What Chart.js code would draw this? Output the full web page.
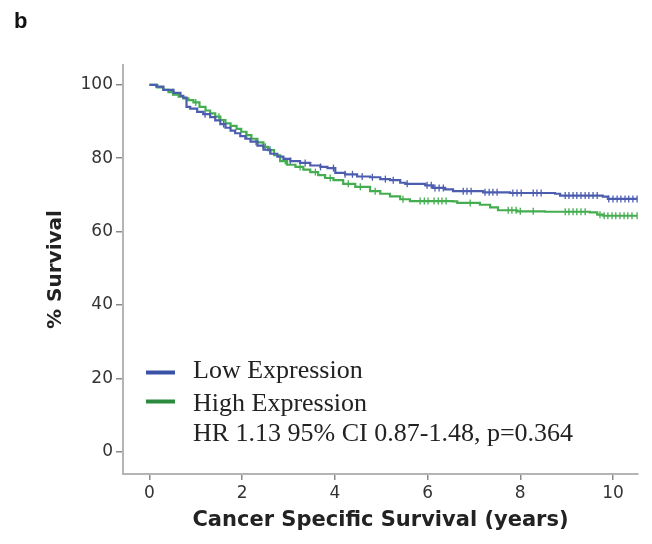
<!DOCTYPE html>
<html>
<head>
<meta charset="utf-8">
<script src="https://cdn.jsdelivr.net/npm/chart.js@4/dist/chart.umd.min.js"></script>
<style>
  body { margin: 0; background: #fff; }
  #wrap { position: relative; width: 652px; height: 544px; }
</style>
</head>
<body>
<div id="wrap"><canvas id="kmChart"></canvas></div>
<script>
// Kaplan-Meier curves (years, % survival)
const lowTimes = [0, 0.15, 0.30, 0.52, 0.67, 0.73, 0.80, 0.88, 1.03, 1.16, 1.31, 1.42, 1.53, 1.64, 1.75, 1.85, 1.96, 2.07, 2.18, 2.33, 2.46, 2.61, 2.76, 2.89, 3.04, 3.25, 3.47, 3.69, 3.84, 4.01, 4.22, 4.48, 4.76, 4.98, 5.19, 5.41, 5.52, 5.95, 6.12, 6.38, 6.55, 7.20, 7.78, 8.75, 8.86, 9.78, 9.89, 10.52];
const lowSurv = [100, 99.5, 98.6, 97.8, 97.0, 96.5, 94.0, 93.5, 92.6, 92.0, 91.2, 90.3, 89.3, 88.3, 87.5, 86.8, 86.0, 85.3, 84.5, 83.4, 82.3, 81.2, 80.4, 79.8, 79.2, 78.7, 78.0, 77.6, 77.3, 76.0, 75.6, 75.0, 74.8, 74.3, 74.0, 73.3, 73.0, 72.6, 71.9, 71.5, 71.0, 70.7, 70.5, 70.3, 69.8, 69.5, 68.9, 68.9];

const highTimes = [0, 0.17, 0.30, 0.41, 0.52, 0.63, 0.73, 0.84, 0.95, 1.08, 1.21, 1.31, 1.42, 1.53, 1.64, 1.75, 1.88, 1.98, 2.09, 2.20, 2.33, 2.46, 2.56, 2.69, 2.82, 2.97, 3.15, 3.32, 3.47, 3.64, 3.79, 3.97, 4.18, 4.44, 4.76, 4.98, 5.19, 5.41, 5.62, 6.55, 6.64, 7.13, 7.35, 7.52, 7.93, 8.53, 9.50, 9.66, 9.78, 10.52];
const highSurv = [100, 99.3, 98.6, 98.0, 97.3, 96.8, 96.3, 95.8, 95.2, 94.0, 93.0, 92.2, 91.3, 90.4, 89.5, 88.8, 88.0, 87.2, 86.3, 85.3, 84.3, 83.1, 82.2, 80.8, 79.2, 78.2, 77.6, 76.9, 76.2, 75.4, 74.6, 74.0, 73.0, 72.2, 71.0, 70.3, 69.6, 68.8, 68.3, 68.2, 67.8, 67.3, 66.6, 65.8, 65.5, 65.4, 65.2, 64.6, 64.3, 64.3];

// censored observations (years)
const lowCensor = [1.2, 1.6, 2.3, 2.6, 3.04, 3.36, 3.69, 3.97, 4.22, 4.38, 4.59, 4.81, 5.09, 5.26, 5.56, 5.99, 6.08, 6.16, 6.25, 6.34, 6.77, 6.85, 6.94, 7.24, 7.33, 7.41, 7.50, 7.84, 7.93, 8.02, 8.28, 8.36, 8.45, 8.97, 9.05, 9.14, 9.22, 9.31, 9.40, 9.48, 9.57, 9.66, 9.91, 10.0, 10.09, 10.17, 10.26, 10.34, 10.43, 10.52];
const highCensor = [0.5, 1.0, 1.5, 2.1, 2.5, 2.93, 3.25, 3.58, 3.90, 4.29, 4.55, 4.87, 5.47, 5.84, 5.93, 6.01, 6.14, 6.23, 6.31, 6.40, 6.92, 7.74, 7.82, 7.91, 8.0, 8.28, 8.97, 9.05, 9.14, 9.22, 9.31, 9.40, 9.72, 9.81, 9.89, 9.98, 10.06, 10.15, 10.24, 10.32, 10.41, 10.52];

const seriesNames = ['Low Expression', 'High Expression'];
const statsText = 'HR 1.13 95% CI 0.87-1.48, p=0.364';
const xTicks = [0, 2, 4, 6, 8, 10];
const yTicks = [0, 20, 40, 60, 80, 100];

const lowColor = '#4c5db0';
const highColor = '#43ad50';
const lowLegendColor = '#3a52a5';
const highLegendColor = '#2b8a3d';

function toPoints(times, surv) {
  return times.map((t, i) => ({ x: t, y: surv[i] }));
}

// survival value at time t from the step function
function survAt(times, surv, t) {
  let v = surv[0];
  for (let i = 0; i < times.length; i++) {
    if (times[i] <= t) v = surv[i];
  }
  return v;
}

function censorPoints(censor, times, surv) {
  return censor.map(t => ({ x: t, y: survAt(times, surv, t) }));
}

const legendPlugin = {
  id: 'kmLegend',
  afterDraw(chart) {
    const ctx = chart.ctx;
    ctx.save();
    // panel letter
    ctx.fillStyle = '#111';
    ctx.font = 'bold 22px "Liberation Sans", Arial, sans-serif';
    ctx.textBaseline = 'alphabetic';
    ctx.textAlign = 'left';
    ctx.fillText('b', 14, 28);

    const rows = [
      { color: lowLegendColor, text: seriesNames[0], lineY: 372.5, baseY: 378 },
      { color: highLegendColor, text: seriesNames[1], lineY: 401.5, baseY: 410.5 }
    ];
    ctx.font = '26px "Liberation Serif", "Times New Roman", serif';
    rows.forEach(r => {
      ctx.strokeStyle = r.color;
      ctx.lineWidth = 4;
      ctx.beginPath();
      ctx.moveTo(146, r.lineY);
      ctx.lineTo(175, r.lineY);
      ctx.stroke();
      ctx.fillStyle = '#222';
      ctx.fillText(r.text, 193, r.baseY);
    });
    ctx.fillText(statsText, 193, 441);
    ctx.restore();
  }
};

const axisGrid = {
  display: true,
  drawOnChartArea: false,
  drawTicks: true,
  color: '#8a8a8a',
  lineWidth: 1.5
};

new Chart(document.getElementById('kmChart').getContext('2d'), {
  type: 'line',
  data: {
    datasets: [
      {
        label: seriesNames[0],
        data: toPoints(lowTimes, lowSurv),
        borderColor: lowColor,
        borderWidth: 2.2,
        pointRadius: 0,
        stepped: 'before',
        fill: false
      },
      {
        label: seriesNames[1],
        data: toPoints(highTimes, highSurv),
        borderColor: highColor,
        borderWidth: 2.2,
        pointRadius: 0,
        stepped: 'before',
        fill: false
      },
      {
        label: 'Low censored',
        data: censorPoints(lowCensor, lowTimes, lowSurv),
        showLine: false,
        pointStyle: 'line',
        rotation: 90,
        pointRadius: 3.5,
        borderColor: lowColor,
        borderWidth: 1.3
      },
      {
        label: 'High censored',
        data: censorPoints(highCensor, highTimes, highSurv),
        showLine: false,
        pointStyle: 'line',
        rotation: 90,
        pointRadius: 3.5,
        borderColor: highColor,
        borderWidth: 1.3
      }
    ]
  },
  options: {
    responsive: true,
    maintainAspectRatio: false,
    animation: false,
    layout: { padding: { left: 0, top: 65, right: 14, bottom: 0 } },
    plugins: {
      legend: { display: false },
      tooltip: { enabled: false }
    },
    scales: {
      x: {
        type: 'linear',
        min: -0.57,
        max: 10.54,
        afterBuildTicks: s => { s.ticks = xTicks.map(v => ({ value: v })); },
        afterFit: s => { s.height = 70; },
        grid: Object.assign({}, axisGrid, { tickLength: 6 }),
        border: { display: true, color: '#b4b4b4', width: 2 },
        ticks: {
          padding: 3,
          color: '#333',
          font: { family: 'DejaVu Sans', size: 17 }
        },
        title: {
          display: true,
          text: 'Cancer Specific Survival (years)',
          color: '#222',
          font: { family: 'DejaVu Sans', size: 21, weight: 'bold' },
          padding: { top: 0, bottom: 11 }
        }
      },
      y: {
        type: 'linear',
        min: -6.1,
        max: 105.4,
        afterBuildTicks: s => { s.ticks = yTicks.map(v => ({ value: v })); },
        afterFit: s => { s.width = 123; },
        grid: Object.assign({}, axisGrid, { tickLength: 7 }),
        border: { display: true, color: '#b4b4b4', width: 2 },
        ticks: {
          padding: 3,
          color: '#333',
          font: { family: 'DejaVu Sans', size: 17 }
        },
        title: {
          display: true,
          text: '% Survival',
          color: '#222',
          font: { family: 'DejaVu Sans', size: 20, weight: 'bold' },
          padding: { top: 44, bottom: 0 }
        }
      }
    }
  },
  plugins: [legendPlugin]
});
</script>
</body>
</html>
